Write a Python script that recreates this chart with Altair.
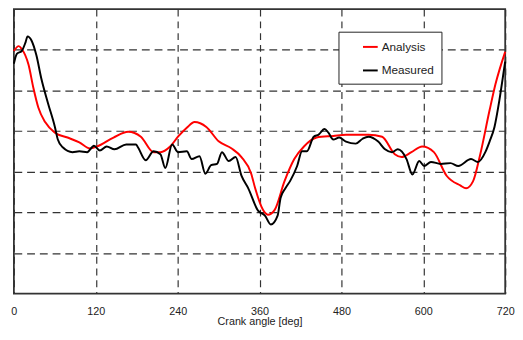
import altair as alt
import pandas as pd

# Crank angle [deg] and relative value
analysis_angle = [0, 7.2, 11.5, 21.5, 28.6, 35.8, 45.8, 60.1, 78.7, 95.9, 111.6, 121.7,
                  146.0, 167.5, 186.1, 204.7, 214.7, 229.0, 240.5, 253.4, 264.8, 282.0,
                  300.6, 319.2, 333.5, 347.8, 353.6, 365.0, 372.2, 382.2, 396.5, 410.9,
                  425.1, 443.7, 468.1, 486.7, 519.6, 539.6, 558.2, 568.3, 582.6, 598.3,
                  615.5, 634.1, 654.2, 662.7, 672.8, 682.8, 697.1, 705.7, 720]
analysis_value = [5.97, 6.09, 6.02, 5.63, 5.06, 4.58, 4.22, 3.96, 3.84, 3.72, 3.57, 3.62,
                  3.84, 3.98, 3.86, 3.48, 3.48, 3.62, 3.86, 4.08, 4.22, 4.10,
                  3.74, 3.57, 3.36, 2.95, 2.59, 2.06, 1.94, 2.06, 2.76, 3.31,
                  3.62, 3.84, 3.88, 3.91, 3.91, 3.86, 3.43, 3.36, 3.48, 3.62,
                  3.48, 2.90, 2.66, 2.59, 2.76, 3.38, 4.51, 5.15, 5.95]

measured_angle = [0, 4.3, 11.5, 17.2, 20.0, 25.8, 32.9, 40.1, 50.1, 60.1, 64.4, 71.6,
                  85.9, 95.9, 107.4, 117.4, 126.0, 136.0, 147.4, 164.6, 178.9, 181.8,
                  193.2, 204.7, 214.7, 221.9, 231.9, 240.5, 253.4, 260.5, 272.0, 280.6,
                  289.1, 297.7, 304.9, 314.9, 324.9, 333.5, 343.5, 357.8, 367.9, 376.5,
                  386.5, 390.8, 397.9, 405.1, 415.1, 422.3, 429.4, 439.4, 446.6, 455.2,
                  460.9, 468.1, 476.7, 486.7, 501.0, 511.0, 519.6, 533.9, 543.9, 554.0,
                  562.6, 575.4, 584.0, 594.0, 601.2, 611.2, 625.5, 639.8, 651.3, 669.9,
                  679.9, 691.4, 697.1, 704.3, 711.4, 718.5, 720]
measured_value = [5.66, 5.90, 5.97, 6.19, 6.33, 6.23, 5.87, 5.30, 4.68, 4.10, 3.79, 3.60,
                  3.48, 3.50, 3.48, 3.64, 3.52, 3.62, 3.55, 3.67, 3.67, 3.60,
                  3.28, 3.50, 3.43, 3.09, 3.67, 3.48, 3.50, 3.31, 3.38, 2.95,
                  3.16, 3.19, 3.48, 3.26, 3.36, 2.90, 2.59, 2.04, 1.92, 1.70,
                  1.92, 2.35, 2.59, 2.78, 3.14, 3.50, 3.50, 3.86, 3.91, 4.05,
                  3.96, 3.79, 3.84, 3.74, 3.69, 3.81, 3.86, 3.74, 3.55, 3.48,
                  3.55, 3.31, 2.93, 3.26, 3.14, 3.24, 3.19, 3.21, 3.14, 3.31,
                  3.24, 3.50, 3.74, 4.10, 4.75, 5.54, 5.71]

series_names = ["Analysis", "Measured"]
series_colors = ["#ff0000", "#000000"]
x_ticks = [0, 120, 240, 360, 480, 600, 720]
y_grid = [1, 2, 3, 4, 5, 6]

df = pd.concat([
    pd.DataFrame({"angle": analysis_angle, "value": analysis_value, "series": "Analysis"}),
    pd.DataFrame({"angle": measured_angle, "value": measured_value, "series": "Measured"}),
])

FONT = "Liberation Sans"

chart = alt.Chart(df).mark_line(strokeWidth=2, interpolate="monotone").encode(
    x=alt.X("angle:Q",
            scale=alt.Scale(domain=[0, 720], nice=False),
            axis=alt.Axis(values=x_ticks, title="Crank angle [deg]", grid=True,
                          gridDash=[7, 5], gridColor="#333333", gridOpacity=1, gridWidth=1.2,
                          ticks=False, domain=False, labelFlush=False, labelPadding=12,
                          labelFontSize=11, labelFont=FONT, labelColor="#222222",
                          titleFont=FONT, titleFontSize=11, titleFontWeight="normal",
                          titleColor="#222222", titlePadding=0)),
    y=alt.Y("value:Q",
            scale=alt.Scale(domain=[0, 7], nice=False),
            axis=alt.Axis(values=y_grid, labels=False, ticks=False, domain=False, title=None,
                          grid=True, gridDash=[8, 5], gridColor="#333333", gridOpacity=1,
                          gridWidth=1.2)),
    color=alt.Color("series:N",
                    scale=alt.Scale(domain=series_names, range=series_colors),
                    legend=alt.Legend(title=None, orient="none", legendX=331, legendY=23,
                                      symbolType="stroke", symbolSize=225, symbolStrokeWidth=2,
                                      symbolOffset=17, labelFont=FONT, labelFontSize=12,
                                      labelColor="#222222", labelOffset=3, rowPadding=9,
                                      padding=7, strokeColor="#222222", fillColor="white",
                                      cornerRadius=0)),
).properties(
    width=501, height=290,
    padding={"left": 2, "top": -2, "right": 0, "bottom": 0},
).configure_view(stroke="#333333", strokeWidth=1.8)

chart.save("out.html", embed_options={"renderer": "svg", "actions": False})
